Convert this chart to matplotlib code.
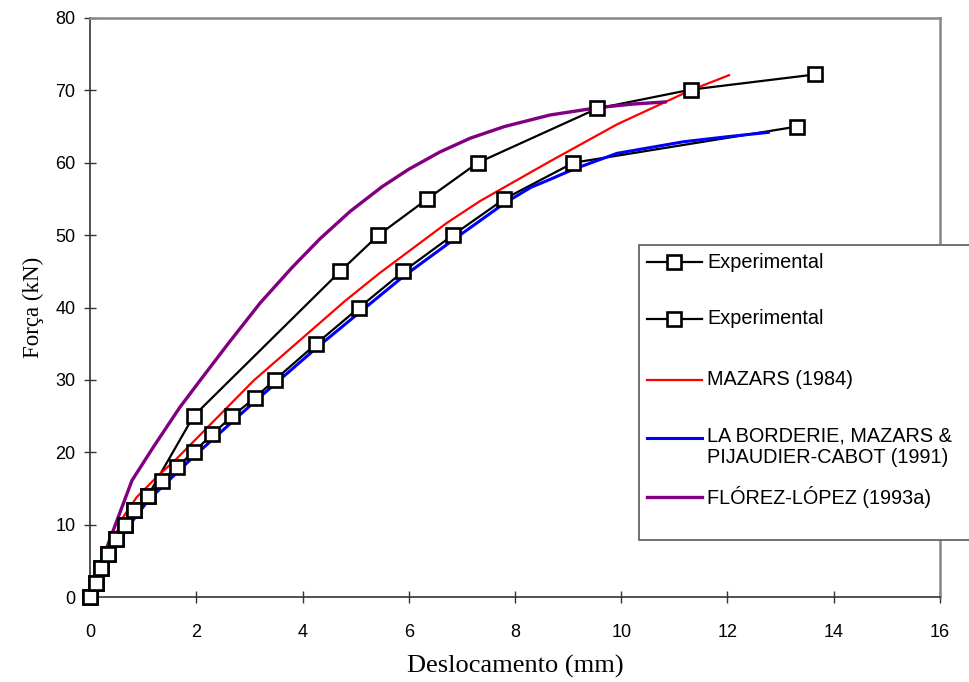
import matplotlib
matplotlib.use("Agg")
import matplotlib.pyplot as plt
from matplotlib.lines import Line2D
from matplotlib.patches import Rectangle

# ---------------- data ----------------
exp1_x = [0, 0.11, 0.2, 0.33, 0.48, 0.66, 0.83, 1.09, 1.95, 4.71, 5.43, 6.35, 7.3, 9.55, 11.31, 13.65]
exp1_y = [0, 2, 4, 6, 8, 10, 12, 14, 25, 45, 50, 55, 60, 67.5, 70.1, 72.2]

exp2_x = [0, 0.11, 0.2, 0.33, 0.48, 0.66, 0.83, 1.09, 1.35, 1.63, 1.95, 2.3, 2.68, 3.1, 3.48,
          4.26, 5.07, 5.9, 6.83, 7.8, 9.1, 13.31]
exp2_y = [0, 2, 4, 6, 8, 10, 12, 14, 16, 18, 20, 22.5, 25, 27.5, 30,
          35, 40, 45, 50, 55, 60, 65]

mazars_x = [0, 0.3, 0.63, 0.88, 1.26, 1.63, 3.08, 4.8, 5.46, 6.72, 7.34, 8.66, 9.92, 11.3, 12.03]
mazars_y = [0, 5.5, 11.1, 13.8, 16.6, 19.1, 29.9, 40.9, 44.8, 51.7, 54.7, 60.2, 65.3, 70.0, 72.1]

lbm_x = [0, 0.5, 1.1, 1.95, 3.1, 4.26, 5.07, 5.9, 6.83, 7.8, 8.3, 8.66, 9.1, 9.92, 11.17, 12.0, 12.77]
lbm_y = [0, 7.6, 13.4, 19.4, 27.0, 34.4, 39.3, 44.3, 49.3, 54.4, 56.6, 57.7, 59.1, 61.3, 62.9, 63.6, 64.2]

flo_x = [0, 0.32, 0.79, 1.2, 1.69, 2.07, 2.6, 3.2, 3.8, 4.33, 4.9, 5.5, 6.0, 6.59, 7.16, 7.8,
         8.66, 9.55, 10.2, 10.83]
flo_y = [0, 6.9, 16.1, 20.8, 26.2, 29.9, 35.0, 40.6, 45.5, 49.5, 53.3, 56.7, 59.1, 61.5, 63.4, 65.0,
         66.6, 67.6, 68.1, 68.4]

labels = ["Experimental", "Experimental", "MAZARS (1984)",
          "LA BORDERIE, MAZARS &\nPIJAUDIER-CABOT (1991)", "FLÓREZ-LÓPEZ (1993a)"]
colors = ["black", "black", "#FF0000", "#0000FF", "#800080"]
widths = [1.6, 1.6, 1.6, 2.2, 2.4]

x_ticks = list(range(0, 17, 2))
y_ticks = list(range(0, 81, 10))

# ---------------- figure ----------------
W, H = 969, 682
fig = plt.figure(figsize=(W / 100, H / 100), dpi=100)
ax = fig.add_axes([90 / W, 1 - 597 / H, (940 - 90) / W, (597 - 18) / H])

sans = ["Liberation Sans", "DejaVu Sans"]
serif = ["Liberation Serif", "DejaVu Serif"]

series = [(exp1_x, exp1_y), (exp2_x, exp2_y), (mazars_x, mazars_y), (lbm_x, lbm_y), (flo_x, flo_y)]
for i, (xs, ys) in enumerate(series):
    ax.plot(xs, ys, color=colors[i], lw=widths[i], zorder=2 if i < 2 else 3,
            solid_joinstyle="round")

mk = dict(marker="s", ms=9.5, mfc="white", mec="black", mew=1.9, ls="none", zorder=6, clip_on=False)
ax.plot(exp1_x, exp1_y, **mk)
ax.plot(exp2_x, exp2_y, **mk)

ax.set_xlim(0, 16)
ax.set_ylim(0, 80)
ax.set_xticks(x_ticks)
ax.set_yticks(y_ticks)

for s in ["left", "bottom"]:
    ax.spines[s].set_color("#333333")
    ax.spines[s].set_linewidth(1.2)
for s in ["top", "right"]:
    ax.spines[s].set_color("#888888")
    ax.spines[s].set_linewidth(1.8)

ax.tick_params(axis="both", direction="inout", length=9, width=1.0, color="#333333",
               labelsize=13, labelcolor="black")
ax.tick_params(axis="x", pad=15)
ax.tick_params(axis="y", pad=6)
for lab in ax.get_xticklabels() + ax.get_yticklabels():
    lab.set_fontfamily(sans)

ax.set_xlabel("Deslocamento (mm)", fontsize=19, family=serif, labelpad=10)
ax.set_ylabel("Força (kN)", fontsize=16.5, family=serif, labelpad=8)

# ---------------- legend (box runs off the right edge as in the original) ----------------
def fx(px):
    return px / W

def fy(py):
    return 1 - py / H

fig.add_artist(Rectangle((fx(639), fy(540)), fx(1000) - fx(639), fy(245) - fy(540),
                         transform=fig.transFigure, facecolor="white", edgecolor="#666666",
                         lw=1.3, zorder=10))
rows = [262, 319, 380, 438, 497]
for i, (lab, col, ry) in enumerate(zip(labels, colors, rows)):
    fig.add_artist(Line2D([fx(647), fx(702)], [fy(ry), fy(ry)], color=col, lw=widths[i],
                          transform=fig.transFigure, zorder=11))
    if i < 2:
        fig.add_artist(Line2D([fx(674)], [fy(ry)], marker="s", ms=9.5, mfc="white", mec="black",
                              mew=1.9, transform=fig.transFigure, zorder=12))
    if "\n" in lab:
        fig.text(fx(707), fy(ry - 11), lab, ha="left", va="top", fontsize=14.3, family=sans,
                 linespacing=1.12, zorder=12)
    else:
        fig.text(fx(707), fy(ry), lab, ha="left", va="center", fontsize=14.3, family=sans, zorder=12)

fig.savefig("out.png", dpi=100)
